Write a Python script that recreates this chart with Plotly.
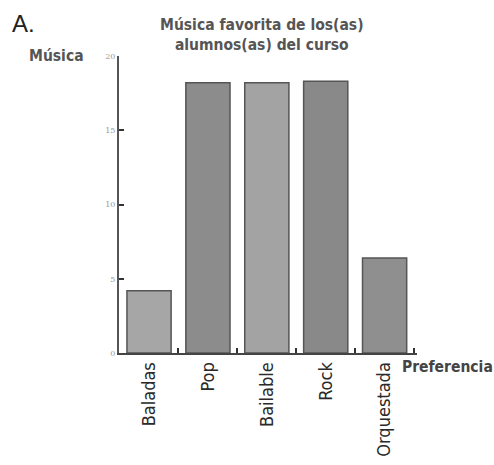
import plotly.graph_objects as go

categories = ["Baladas", "Pop", "Bailable", "Rock", "Orquestada"]
values = [4.2, 18.2, 18.2, 18.3, 6.4]
bar_colors = ["#a6a6a6", "#8c8c8c", "#a3a3a3", "#898989", "#8f8f8f"]
y_ticks = [0, 5, 10, 15, 20]

FONT = "DejaVu Sans Condensed, Liberation Sans Narrow, sans-serif"

fig = go.Figure(go.Bar(
    x=categories, y=values,
    marker=dict(color=bar_colors, line=dict(color="#555555", width=1.5)),
    width=0.75,
))

fig.update_layout(
    width=494, height=465,
    margin=dict(l=119, r=77, t=56, b=112),
    paper_bgcolor="white", plot_bgcolor="white",
    showlegend=False,
    font=dict(family=FONT, color="#333333"),
)

fig.update_xaxes(
    type="category", automargin=False,
    range=[-0.51, 4.55],
    showline=True, linecolor="#444444", linewidth=2,
    ticks="inside", tickson="boundaries", ticklen=5, tickwidth=2, tickcolor="#333333",
    tickangle=-90,
    tickfont=dict(size=18, color="#2a2a2a", family=FONT),
    showgrid=False, zeroline=False,
)
fig.update_yaxes(
    range=[0, 20], automargin=False,
    tickvals=y_ticks, ticktext=[str(v) for v in y_ticks],
    showline=True, linecolor="#555555", linewidth=2,
    ticks="inside", ticklen=5, tickwidth=2, tickcolor="#333333",
    tickfont=dict(size=8, color="#999999", family="DejaVu Serif, serif"),
    showgrid=False, zeroline=False,
)

fig.add_annotation(text="A.", xref="paper", yref="paper", x=-109/298, y=1+17/296,
                   xanchor="left", yanchor="bottom", showarrow=False,
                   font=dict(size=24, color="#222222", family="Liberation Sans, Arial, sans-serif"))
fig.add_annotation(text="<b>Música favorita de los(as)<br>alumnos(as) del curso</b>",
                   xref="paper", yref="paper", x=(262-119)/298, y=1,
                   xanchor="center", yanchor="bottom", showarrow=False, align="center",
                   font=dict(size=15.5, color="#555555", family=FONT))
fig.add_annotation(text="<b>Música</b>", xref="paper", yref="paper", x=-33/298, y=1,
                   xanchor="right", yanchor="middle", showarrow=False,
                   font=dict(size=15.5, color="#555555", family=FONT))
fig.add_annotation(text="<b>Preferencia</b>", xref="paper", yref="paper", x=(400-119)/298, y=-14/296,
                   xanchor="left", yanchor="middle", showarrow=False,
                   font=dict(size=15.5, color="#444444", family=FONT))

fig.write_html("out.html", config={"displayModeBar": False},
               post_script="document.body.style.margin='0';")
